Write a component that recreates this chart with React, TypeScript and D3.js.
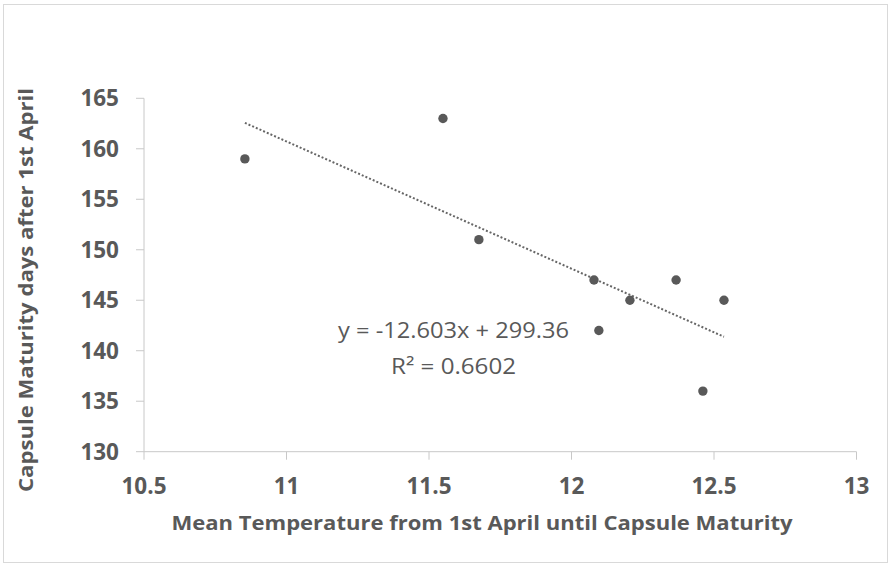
import React from "react";
import * as d3 from "d3";

const temps = [10.854, 11.549, 11.675, 12.079, 12.096, 12.205, 12.367, 12.461, 12.535];
const days = [159, 163, 151, 147, 142, 145, 147, 136, 145];
const xTicks = [10.5, 11, 11.5, 12, 12.5, 13];
const yTicks = [130, 135, 140, 145, 150, 155, 160, 165];
const slope = -12.603;
const intercept = 299.36;
const eqLabel = "y = -12.603x + 299.36";
const r2Label = "R² = 0.6602";
const xTitle = "Mean Temperature from 1st April until Capsule Maturity";
const yTitle = "Capsule Maturity days after 1st April";

const W = 891;
const H = 565;
const textColor = "#595959";
const axisColor = "#c8c8c8";
const font = "'Open Sans', 'Liberation Sans', sans-serif";

export default function App() {
  const x = d3.scaleLinear().domain([10.5, 13]).range([144, 856.5]);
  const y = d3.scaleLinear().domain([130, 165]).range([451.7, 98.3]);
  const xMin = d3.min(temps) as number;
  const xMax = d3.max(temps) as number;
  const trend = d3
    .line<number>()
    .x((d) => x(d))
    .y((d) => y(slope * d + intercept));

  return (
    <svg
      width={W}
      height={H}
      style={{ position: "absolute", left: 0, top: 0, background: "#fff" }}
      fontFamily={font}
    >
      <rect x={3.5} y={4.5} width={884} height={558} fill="#fff" stroke="#d9d9d9" strokeWidth={1} />
      {/* y axis */}
      <line x1={x(10.5)} x2={x(10.5)} y1={y(165)} y2={y(130)} stroke={axisColor} strokeWidth={1} />
      {yTicks.map((t) => (
        <g key={"y" + t}>
          <line x1={x(10.5) - 8} x2={x(10.5)} y1={y(t)} y2={y(t)} stroke={axisColor} />
          <text
            x={119}
            y={y(t)}
            dy="0.36em"
            textAnchor="end"
            fontSize={22.5}
            fontWeight={700}
            fill={textColor}
          >
            {t}
          </text>
        </g>
      ))}
      {/* x axis */}
      <line x1={x(10.5)} x2={x(13)} y1={y(130)} y2={y(130)} stroke={axisColor} strokeWidth={1} />
      {xTicks.map((t) => (
        <g key={"x" + t}>
          <line x1={x(t)} x2={x(t)} y1={y(130)} y2={y(130) + 8} stroke={axisColor} />
          <text
            x={x(t)}
            y={486}
            dy="0.36em"
            textAnchor="middle"
            fontSize={22.5}
            fontWeight={700}
            fill={textColor}
          >
            {t}
          </text>
        </g>
      ))}
      {/* trendline */}
      <path
        d={trend([xMin, xMax]) as string}
        fill="none"
        stroke="#666"
        strokeWidth={2}
        strokeDasharray="2 2"
      />
      {/* points */}
      {temps.map((t, i) => (
        <circle key={i} cx={x(t)} cy={y(days[i])} r={4.7} fill={textColor} />
      ))}
      {/* equation */}
      <text
        x={453.5}
        y={330}
        dy="0.36em"
        textAnchor="middle"
        fontSize={22}
        fill={textColor}
        textLength={231}
        lengthAdjust="spacingAndGlyphs"
      >
        {eqLabel}
      </text>
      <text
        x={453.5}
        y={366}
        dy="0.36em"
        textAnchor="middle"
        fontSize={22}
        fill={textColor}
        textLength={125}
        lengthAdjust="spacingAndGlyphs"
      >
        {r2Label}
      </text>
      {/* titles */}
      <text
        x={482}
        y={523}
        dy="0.36em"
        textAnchor="middle"
        fontSize={20}
        fontWeight={700}
        fill={textColor}
        textLength={621}
        lengthAdjust="spacingAndGlyphs"
      >
        {xTitle}
      </text>
      <text
        transform={`translate(26,290) rotate(-90)`}
        dy="0.36em"
        textAnchor="middle"
        fontSize={20}
        fontWeight={700}
        fill={textColor}
        textLength={404}
        lengthAdjust="spacingAndGlyphs"
      >
        {yTitle}
      </text>
    </svg>
  );
}
